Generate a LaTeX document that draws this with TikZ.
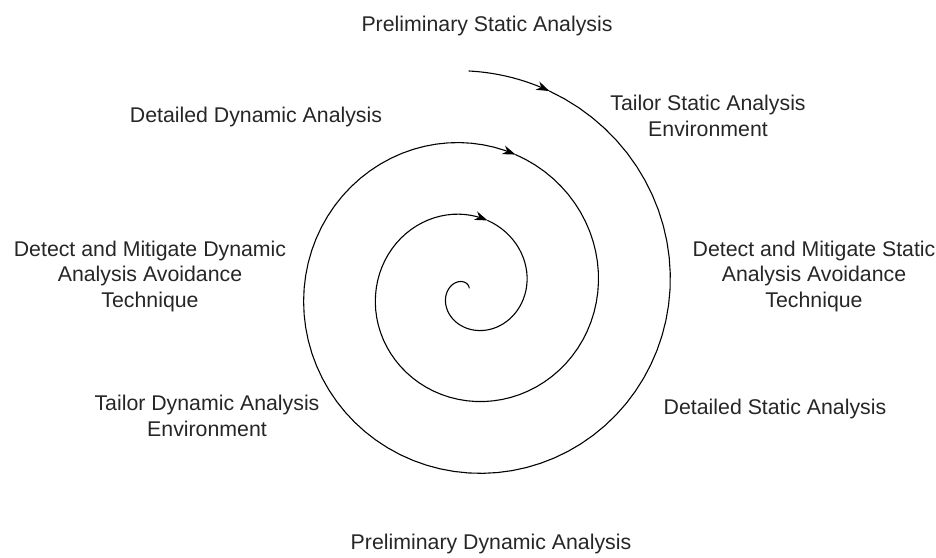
\documentclass[tikz,border=0pt]{standalone}
\usepackage{fontspec}
\setmainfont{Liberation Sans}
\usetikzlibrary{arrows.meta}

\tikzset{
  phasetext/.style={align=center, inner sep=0pt, text=black!85,
    font=\fontsize{21.3}{25.5}\selectfont},
  spiralline/.style={line width=1.1pt, line cap=round},
  spiralarrow/.style={spiralline, -{Stealth[length=13pt, width=9pt, inset=4pt]}},
}

\begin{document}
\begin{tikzpicture}[x=1pt, y=-1pt]
  \useasboundingbox (0,0) rectangle (936,557);

  % phase labels round the spiral
  \node[phasetext] (prestatic)    at (487,26)  {Preliminary Static Analysis};
  \node[phasetext] (tailorstatic) at (708,116) {Tailor Static Analysis\\Environment};
  \node[phasetext] (mitstatic)    at (814,276) {Detect and Mitigate Static\\Analysis Avoidance\\Technique};
  \node[phasetext] (detstatic)    at (775,409) {Detailed Static Analysis};
  \node[phasetext] (predyn)       at (491,544) {Preliminary Dynamic Analysis};
  \node[phasetext] (tailordyn)    at (207,416) {Tailor Dynamic Analysis\\Environment};
  \node[phasetext] (mitdyn)       at (150,276) {Detect and Mitigate Dynamic\\Analysis Avoidance\\Technique};
  \node[phasetext] (detdyn)       at (256,117) {Detailed Dynamic Analysis};

  % spiral, one piece per arrowhead
  \foreach \ta/\tb in {-90/-68, -68/289, 289/645}
    \draw[spiralarrow] plot[domain=\ta:\tb, samples=80]
      ({469+(201-0.2*\x)*cos(\x)}, {290+(201-0.2*\x)*sin(\x)});
  \draw[spiralline] plot[domain=645:995, samples=80]
    ({469+(201-0.2*\x)*cos(\x)}, {290+(201-0.2*\x)*sin(\x)});
\end{tikzpicture}
\end{document}
